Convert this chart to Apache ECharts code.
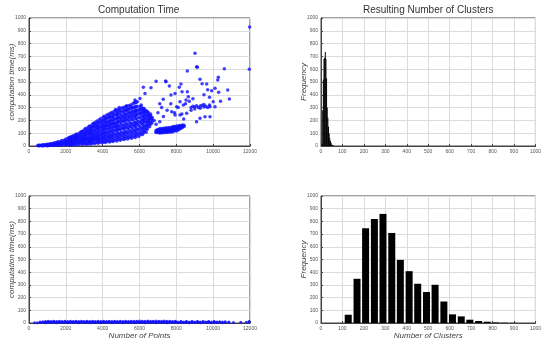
<!DOCTYPE html>
<html>
<head>
<meta charset="utf-8">
<script src="https://cdn.jsdelivr.net/npm/echarts@6/dist/echarts.min.js"></script>
<style>html,body{margin:0;padding:0;background:#fff}#c{width:544px;height:341px}</style>
</head>
<body>
<div id="c"></div>
<script>
// ---- Data ----
const titles = ['Computation Time', 'Resulting Number of Clusters'];
const pointsTicks = [0, 2000, 4000, 6000, 8000, 10000, 12000];
const clusterTicks = [0, 100, 200, 300, 400, 500, 600, 700, 800, 900, 1000];
const yTicks = [0, 100, 200, 300, 400, 500, 600, 700, 800, 900, 1000];

// Top-left scatter: main band, columns [numberOfPoints, [times ms]]
const timeBandCols = [
 [500,[1,3,5]],[590,[2,6,4]],[720,[3,8,1,5]],[800,[5,2,9]],[930,[7,3,11,5]],
 [1010,[4,13,8,2]],[1120,[6,16,10,3]],[1190,[12,5,19,8]],[1330,[9,22,4,15]],[1400,[17,7,26,12]],
 [1520,[11,29,5,20]],[1580,[24,8,33,15]],[1720,[14,37,6,27,20]],[1790,[31,10,43,22]],[1930,[18,47,8,35,26]],
 [2010,[39,12,55,28,20]],[2130,[22,60,9,45,33]],[2180,[50,15,66,30,40]],[2320,[27,72,11,56,40,18]],[2380,[62,20,79,35,48]],
 [2530,[31,86,14,68,50,40]],[2570,[75,24,94,44,58]],[2720,[38,100,16,80,60,28]],[2810,[88,27,110,49,68,40]],[2930,[44,118,19,95,72,58]],
 [3020,[104,31,128,60,82,45,15]],[3080,[52,138,22,112,76,92]],[3230,[120,36,148,66,95,50,18]],[3290,[60,156,28,130,85,108,42]],
 [3420,[140,40,165,75,100,58,22,120]],[3480,[68,175,30,150,92,118,48]],[3620,[158,46,186,82,110,65,25,135]],[3700,[76,196,34,170,100,128,55,148]],
 [3810,[180,50,205,90,118,70,28,150,135]],[3900,[85,214,38,190,110,140,60,165]],[4030,[198,55,225,100,128,78,30,160,145]],[4080,[95,232,42,205,118,150,66,178]],
 [4220,[212,60,240,108,135,84,35,172,155,190]],[4300,[102,248,46,220,128,160,72,188]],[4420,[225,66,255,118,145,92,38,182,165,205]],[4490,[110,262,50,235,136,170,80,198]],
 [4610,[240,72,270,125,155,98,42,195,175,218]],[4700,[120,275,55,248,145,180,86,210,160]],[4820,[252,78,282,135,165,105,48,205,188,228]],[4880,[128,288,60,262,152,190,92,222]],
 [5020,[265,84,295,142,175,112,52,218,198,240]],[5110,[136,300,66,272,160,200,98,232]],[5220,[275,90,305,150,185,120,58,228,208,250]],[5290,[145,312,70,282,170,210,105,245]],
 [5430,[285,96,315,158,195,128,64,238,218,262]],[5500,[152,320,76,292,180,222,112,255]],[5630,[295,104,330,168,205,135,70,250,228,272]],[5720,[160,335,84,300,188,232,120,265]],
 [5820,[305,110,340,175,215,142,78,260,238,280]],[5880,[170,345,92,310,198,245,128,275]],[6040,[310,118,290,185,225,150,88,265,248]],[6100,[178,300,98,320,205,252,135,280]],
 [6230,[295,130,275,192,232,160,105,258,215]],[6280,[188,285,118,240,210,265,150]],[6420,[270,148,255,198,228,170,130]],[6480,[205,245,160,262,185,225]],
 [6600,[235,170,215,190,250]],[6680,[200,225,180,215]]
];
// Top-left scatter: extra points filling the dense band
const timeBandFill = [
 [2250,[5,25,42,58,70]],[2450,[8,28,45,62,82]],[2650,[10,33,52,70,88]],[2870,[12,36,56,78,100,114]],
 [3150,[14,38,58,80,98,118,132]],[3350,[16,44,66,90,112,135,150]],[3550,[20,50,74,96,122,145,165,180]],
 [3750,[22,44,64,88,112,138,160,185]],[3960,[26,48,72,96,122,150,175,200]],[4150,[28,52,78,104,130,158,185,210,225]],
 [4360,[32,58,82,112,140,168,196,225,238]],[4550,[36,62,88,118,146,175,205,228,252]],[4760,[40,68,96,125,152,180,212,240,262]],
 [4950,[45,74,100,130,160,188,215,245,275]],[5160,[50,78,106,134,165,195,222,254,285]],[5360,[55,82,112,140,172,202,230,260,292]],
 [5570,[60,90,118,146,175,208,240,268,300]],[5770,[66,96,125,152,182,215,248,280,310]],[5960,[75,104,132,160,190,220,255,285]],
 [6170,[90,115,142,170,200,230,262,290]],[6360,[108,135,160,185,215,245,275]],[6550,[150,180,210,240]]
];
// Top-left scatter: flat blob near 7000-8500 points
const timeBlobCols = [
 [6900,[112,121,106]],[6970,[118,108,127]],[7050,[104,115,124,131]],[7130,[110,120,128,137,102]],[7210,[106,117,125,133]],
 [7290,[113,122,130,139,103]],[7370,[108,119,127,136]],[7450,[115,124,133,142,105]],[7530,[110,121,129,138]],[7610,[117,126,135,145,108]],
 [7690,[112,123,131,141]],[7770,[119,128,138,148,110]],[7850,[115,125,134,144,152]],[7930,[121,131,140,150]],[8010,[118,128,137,147,156]],
 [8090,[125,135,145,154]],[8170,[131,141,150,160]],[8250,[138,148,158]],[8330,[145,155,165]],[8420,[152,163]]
];
// Top-left scatter: sparse points
const timeSparse = [
 [6624,456],[6299,411],[6210,459],[6027,372],[5756,346],[5756,359],[5575,307],[5304,281],[5304,312],[4900,300],[4700,285],
 [7420,508],[7620,469],[8160,459],[8310,424],[7290,365],[7439,502],[6900,505],[7100,330],
 [6800,200],[7000,260],[7200,300],[7300,230],[7500,280],[7700,330],[7900,260],[8100,300],[8300,250],[8500,330],
 [8700,350],[8800,280],[6900,170],[7100,190],[8400,210],[7750,268],[7930,242],[8200,242],[8560,255],[7710,398],[7930,411],[8200,346],[8020,307],[8380,320],
 [8800,300],[8900,310],[9000,305],[9100,315],[9200,300],[9300,312],[9400,318],[9500,305],[9600,310],[9700,300],[9800,320],[9000,290],[9300,295],[9500,325],
 [9014,724],[9140,615],[9100,620],[8596,586],[10605,604],[11962,599],[11980,930],[10280,537],[10250,516],[9285,521],[9648,484],[9400,486],[8253,484],
 [10789,437],[10879,367],[9920,432],[10100,451],[8596,424],[8650,385],[8525,359],[9285,216],[9100,190],[9557,229],[9828,229],[9828,307],[10100,307],
 [10000,345],[10400,350],[9800,380],[10300,420],[9700,440],[8900,370],[9500,400]
];
// Bottom-left scatter: columns [numberOfPoints, [times ms]]
const timeLowCols = [
 [300,[1]],[450,[2]],[600,[3,7]],[750,[5,9]],[900,[2,8,12]],[1050,[6,10,13]],[1200,[3,7,12]],[1350,[5,9,14]],[1500,[2,8,11]],
 [1650,[6,10,13]],[1800,[3,7,12]],[1950,[5,9,14]],[2100,[2,8,11]],[2250,[6,10,13]],[2400,[3,7,12]],[2550,[5,9,14]],[2700,[2,8,11]],
 [2850,[6,10,13]],[3000,[3,7,12]],[3150,[5,9,14]],[3300,[2,8,11]],[3450,[6,10,14]],[3600,[3,7,12]],[3750,[5,9,13]],[3900,[2,8,12]],
 [4050,[6,10,14]],[4200,[3,7,12]],[4350,[5,9,13]],[4500,[2,8,12]],[4650,[6,10,14]],[4800,[3,7,12]],[4950,[5,9,13]],[5100,[2,8,12]],
 [5250,[6,10,14]],[5400,[3,7,12]],[5550,[5,9,13]],[5700,[2,8,14]],[5850,[6,10,13]],[6000,[3,7,15]],[6150,[5,9,13]],[6300,[2,8,14]],
 [6450,[6,10,15]],[6600,[3,7,13]],[6750,[5,9,14]],[6900,[2,8,15]],[7050,[6,10,13]],[7200,[3,7,14]],[7350,[5,9,15]],[7500,[2,8,13]],
 [7650,[6,10,14]],[7800,[3,7,12]],[7950,[5,9,13]],[8100,[2,8]],[8250,[6,10,12]],[8400,[3,7]],[8550,[5,9,12]],[8700,[2,8]],
 [8850,[6,10,12]],[9000,[3,7]],[9150,[5,9,12]],[9300,[2,8]],[9450,[6,10,12]],[9600,[3,7]],[9750,[5,9,12]],[9900,[2,8]],
 [10050,[6,10,12]],[10200,[3,7]],[10350,[5,9]],[10500,[2,8]],[10650,[6,10]],[10850,[3,7]],[11100,[4]],[11500,[5]],[11800,[6]],[11950,[8,12]]
];
// Top-right histogram (cluster count bins, frequency)
const histNarrowCenters = [5, 8, 11, 14, 17, 20, 23, 26, 29, 32, 35, 38, 41, 44, 47, 50, 53, 56, 59];
const histNarrowFreq    = [20, 280, 520, 680, 690, 735, 680, 530, 300, 220, 150, 100, 60, 40, 25, 12, 6, 3, 1];
// Bottom-right histogram
const histWideCenters = [127, 168, 208, 249, 289, 330, 370, 411, 451, 492, 532, 573, 613, 654, 694, 735, 775, 816, 856, 897];
const histWideFreq    = [65, 348, 746, 819, 859, 709, 497, 408, 309, 244, 301, 169, 68, 52, 26, 16, 10, 4, 2, 1];

// ---- Build ----
function expand(cols) { const out = []; cols.forEach(c => c[1].forEach(y => out.push([c[0], y]))); return out; }
const topScatter = expand(timeBandCols).concat(expand(timeBandFill), expand(timeBlobCols), timeSparse);
const lowScatter = expand(timeLowCols);
const zip = (a, b) => a.map((v, i) => [v, b[i]]);

const FONT = 'Liberation Sans';
const grids = [
  {left: 29, top: 18, width: 221, height: 128},
  {left: 321, top: 18, width: 221, height: 128},
  {left: 29, top: 196, width: 221, height: 128},
  {left: 321, top: 196, width: 221, height: 128}
].map(g => Object.assign({show: true, borderColor: '#444', borderWidth: 1, containLabel: false}, g));

const lbl = {fontSize: 5, color: '#555', fontFamily: FONT, margin: 3, formatter: v => String(v)};
const split = {show: true, lineStyle: {color: '#dcdcdc', width: 1}};
const nameStyle = {fontSize: 8, fontStyle: 'italic', color: '#444', fontFamily: FONT};
function xa(idx, ticks, name) {
  return {type: 'value', gridIndex: idx, min: ticks[0], max: ticks[ticks.length - 1], interval: ticks[1] - ticks[0],
    axisLine: {show: true, lineStyle: {color: '#444'}}, axisTick: {show: true, inside: true, length: 2, lineStyle: {color: '#444'}},
    axisLabel: Object.assign({showMinLabel: true, showMaxLabel: true}, lbl), splitLine: split,
    name: name || '', nameLocation: 'middle', nameGap: 9, nameMoveOverlap: false, nameTextStyle: nameStyle};
}
function ya(idx, name) {
  return {type: 'value', gridIndex: idx, min: yTicks[0], max: yTicks[yTicks.length - 1], interval: yTicks[1] - yTicks[0],
    axisLine: {show: true, lineStyle: {color: '#444'}}, axisTick: {show: true, inside: true, length: 2, lineStyle: {color: '#444'}},
    axisLabel: lbl, splitLine: split,
    name: name, nameLocation: 'middle', nameGap: 13, nameMoveOverlap: false, nameRotate: 90, nameTextStyle: nameStyle};
}

const chart = echarts.init(document.getElementById('c'), null, {renderer: 'canvas'});
chart.setOption({
  animation: false,
  backgroundColor: '#fff',
  grid: grids,
  graphic: [
    {type: 'text', left: 139 - 41, top: 5, style: {text: titles[0], fontSize: 10, fill: '#333', fontFamily: FONT}},
    {type: 'text', left: 431 - 68, top: 5, style: {text: titles[1], fontSize: 10, fill: '#333', fontFamily: FONT}}
  ],
  xAxis: [
    xa(0, pointsTicks),
    xa(1, clusterTicks),
    xa(2, pointsTicks, 'Number of Points'),
    xa(3, clusterTicks, 'Number of Clusters')
  ],
  yAxis: [
    ya(0, 'computation time(ms)'),
    ya(1, 'Frequency'),
    ya(2, 'computation time(ms)'),
    ya(3, 'Frequency')
  ],
  series: [
    {type: 'scatter', xAxisIndex: 0, yAxisIndex: 0, data: topScatter, symbol: 'circle', symbolSize: 3.5,
      itemStyle: {color: '#1010ff'}},
    {type: 'bar', xAxisIndex: 1, yAxisIndex: 1, data: zip(histNarrowCenters, histNarrowFreq), barWidth: 1,
      itemStyle: {color: '#000'}},
    {type: 'scatter', xAxisIndex: 2, yAxisIndex: 2, data: lowScatter, symbol: 'circle', symbolSize: 3,
      itemStyle: {color: '#1010ff'}},
    {type: 'bar', xAxisIndex: 3, yAxisIndex: 3, data: zip(histWideCenters, histWideFreq), barWidth: 7,
      itemStyle: {color: '#000'}}
  ]
});
</script>
</body>
</html>
